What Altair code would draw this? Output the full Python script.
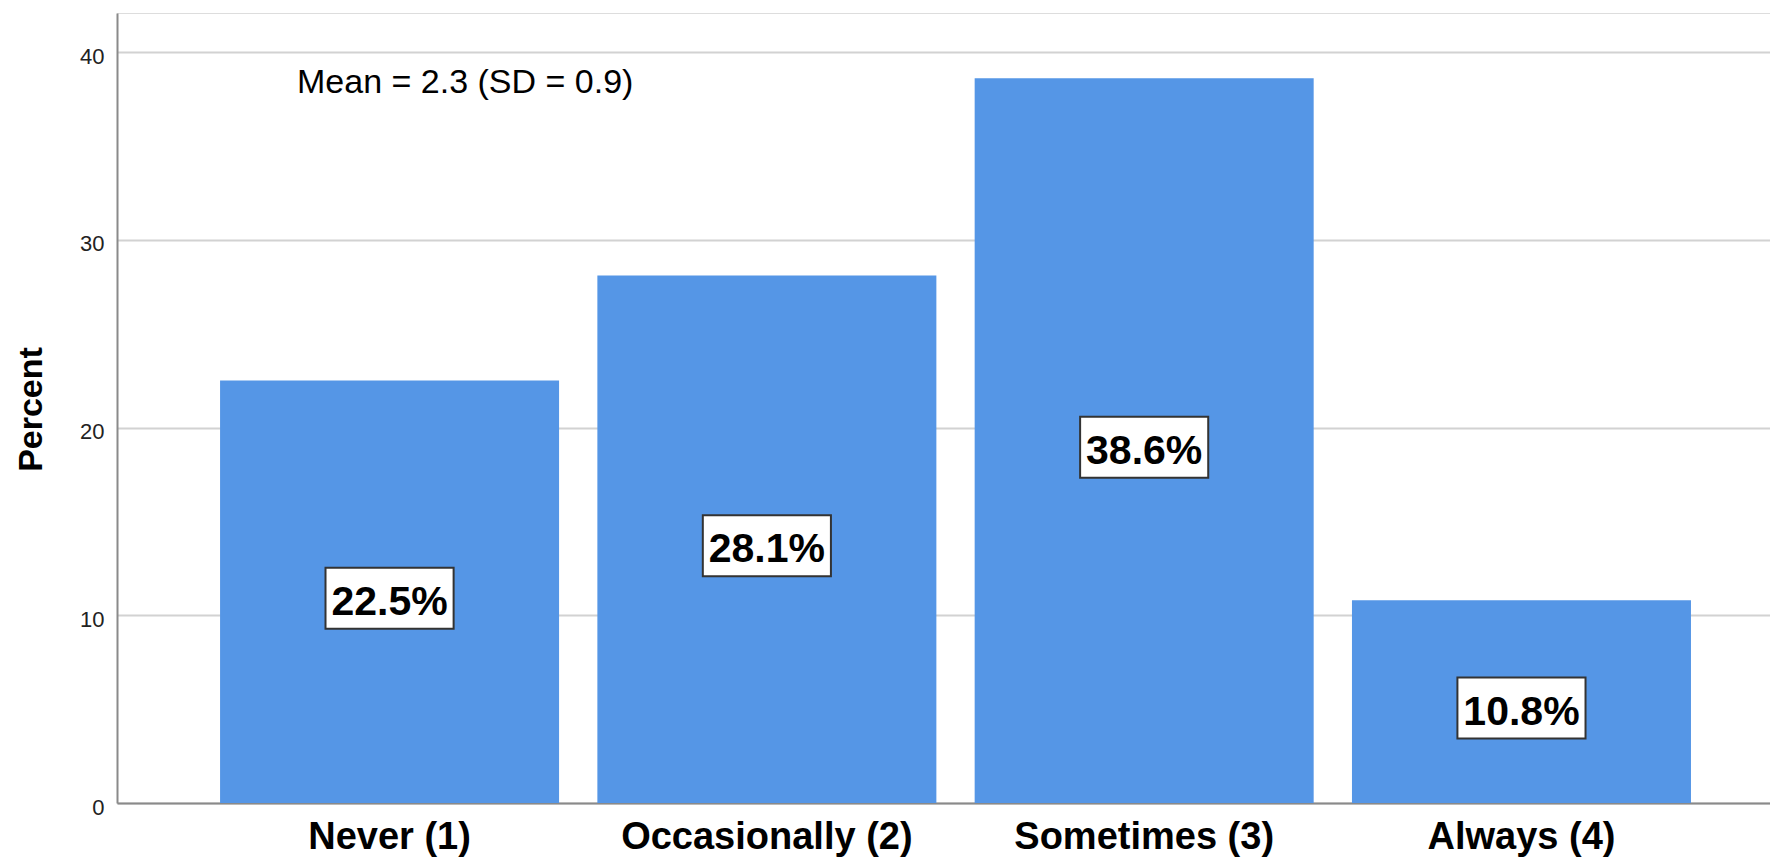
import altair as alt
import pandas as pd

categories = ["Never (1)", "Occasionally (2)", "Sometimes (3)", "Always (4)"]
percents = [22.5, 28.1, 38.6, 10.8]
y_ticks = [0, 10, 20, 30, 40]
annotation = ["Mean = 2.3 (SD = 0.9)"]

df = pd.DataFrame({"cat": categories, "pct": percents})
ann = pd.DataFrame({"txt": annotation})

FONT = "Liberation Sans"

xscale = alt.Scale(paddingInner=0.1015, paddingOuter=0.2413, align=0.566)
yscale = alt.Scale(domain=[0, 42.08], nice=False, zero=True)

x = alt.X(
    "cat:N",
    sort=categories,
    scale=xscale,
    axis=alt.Axis(
        title=None,
        labelAngle=0,
        labelFont=FONT,
        labelFontSize=38,
        labelFontWeight="bold",
        labelColor="#000000",
        labelBaseline="alphabetic",
        labelPadding=45,
        labelLimit=0,
        ticks=False,
        tickSize=0,
        domainColor="#8a8a8a",
        domainWidth=2,
        grid=False,
    ),
)

y = alt.Y(
    "pct:Q",
    scale=yscale,
    axis=alt.Axis(
        title="Percent",
        values=y_ticks,
        titleFont=FONT,
        titleFontSize=34,
        titleFontWeight="bold",
        titleColor="#000000",
        titleAngle=270,
        titleX=-86,
        titleY=396,
        titleAlign="center",
        titleBaseline="middle",
        labelFont=FONT,
        labelFontSize=22,
        labelColor="#222222",
        labelPadding=13,
        labelOffset=4,
        ticks=False,
        tickSize=0,
        domainColor="#8a8a8a",
        domainWidth=2,
        grid=True,
        gridColor="#d2d2d2",
        gridWidth=2,
    ),
)

bars = alt.Chart(df).mark_bar(color="#5596e6").encode(x=x, y=y)

half = alt.Chart(df).transform_calculate(
    half="datum.pct / 2",
    lab="format(datum.pct, '.1f') + '%'",
)

boxes = half.mark_point(
    shape="M-2.1,-1L2.1,-1L2.1,1L-2.1,1Z",
    size=3721,
    filled=True,
    fill="#ffffff",
    stroke="#333333",
    strokeWidth=2,
    opacity=1,
    yOffset=6.5,
).encode(
    x=alt.X("cat:N", sort=categories, scale=xscale),
    y=alt.Y("half:Q", scale=yscale),
)

texts = half.mark_text(
    font=FONT,
    fontSize=41,
    fontWeight="bold",
    color="#000000",
    align="center",
    baseline="alphabetic",
    dy=23,
).encode(
    x=alt.X("cat:N", sort=categories, scale=xscale),
    y=alt.Y("half:Q", scale=yscale),
    text="lab:N",
)

mean_txt = alt.Chart(ann).mark_text(
    font=FONT,
    fontSize=34,
    color="#000000",
    align="left",
    baseline="alphabetic",
).encode(
    x=alt.value(180),
    y=alt.value(80),
    text="txt:N",
)

chart = (
    alt.layer(bars, boxes, texts, mean_txt)
    .properties(
        width=1653,
        height=790,
        autosize=alt.AutoSizeParams(type="none"),
        padding={"left": 109, "top": 5, "right": 0, "bottom": 54},
    )
    .configure_view(stroke=None)
    .configure(background="#ffffff")
)

chart.save("out.html", embed_options={"renderer": "svg", "actions": False})
